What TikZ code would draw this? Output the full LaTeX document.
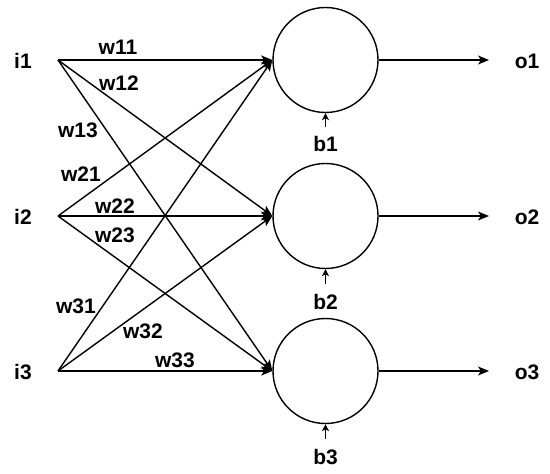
\documentclass[tikz,border=0pt]{standalone}
\usepackage{fontspec}
\setmainfont{Liberation Sans}
\usetikzlibrary{arrows.meta}
\begin{document}
\begin{tikzpicture}[x=1bp,y=-1bp,
  lbl/.style={font=\fontsize{21bp}{24bp}\selectfont\bfseries, inner sep=0pt},
  neuron/.style={circle, draw, line width=1.4bp, minimum size=105bp, inner sep=0pt},
  conn/.style={line width=1.4bp, -{Stealth[length=11bp,width=9bp,inset=2.5bp]}},
  outarr/.style={line width=1.4bp, -{Stealth[length=11bp,width=9bp,inset=3bp]}},
  biasarr/.style={line width=1.4bp, -{Stealth[length=7bp,width=7bp,inset=2bp]}}
]
\useasboundingbox (0,0) rectangle (550,474);

% neurons
\node[neuron] (n1) at (325.5,60) {};
\node[neuron] (n2) at (325.5,216) {};
\node[neuron] (n3) at (325.5,371) {};

% input labels and source points
\node[lbl] (i1) at (23,61) {i1};
\node[lbl] (i2) at (23,217) {i2};
\node[lbl] (i3) at (23,372) {i3};
\coordinate (s1) at (58,60);
\coordinate (s2) at (58,216);
\coordinate (s3) at (58,371);

% output labels and end points
\node[lbl] (o1) at (527,61.5) {o1};
\node[lbl] (o2) at (527,217) {o2};
\node[lbl] (o3) at (527,372.5) {o3};
\coordinate (e1) at (489,60);
\coordinate (e2) at (489,216);
\coordinate (e3) at (489,371);

% bias labels and start points
\node[lbl] (b1) at (325.5,144) {b1};
\node[lbl] (b2) at (325.5,302) {b2};
\node[lbl] (b3) at (325.5,457) {b3};
\coordinate (c1) at (325.5,127);
\coordinate (c2) at (325.5,284);
\coordinate (c3) at (325.5,439);

% weighted connections
\foreach \s in {1,2,3}{
  \foreach \t in {1,2,3}{
    \draw[conn] (s\s) -- (n\t.west);
  }
}

% outputs and biases
\foreach \k in {1,2,3}{
  \draw[outarr] (n\k.east) -- (e\k);
  \draw[biasarr] (c\k) -- (n\k.south);
}

% weight labels
\node[lbl] (w11) at (118,47.5) {w11};
\node[lbl] (w12) at (119,83) {w12};
\node[lbl] (w13) at (78,130) {w13};
\node[lbl] (w21) at (81,174) {w21};
\node[lbl] (w22) at (115,206) {w22};
\node[lbl] (w23) at (115,235) {w23};
\node[lbl] (w31) at (76,306) {w31};
\node[lbl] (w32) at (143,331) {w32};
\node[lbl] (w33) at (175,360) {w33};
\end{tikzpicture}
\end{document}
